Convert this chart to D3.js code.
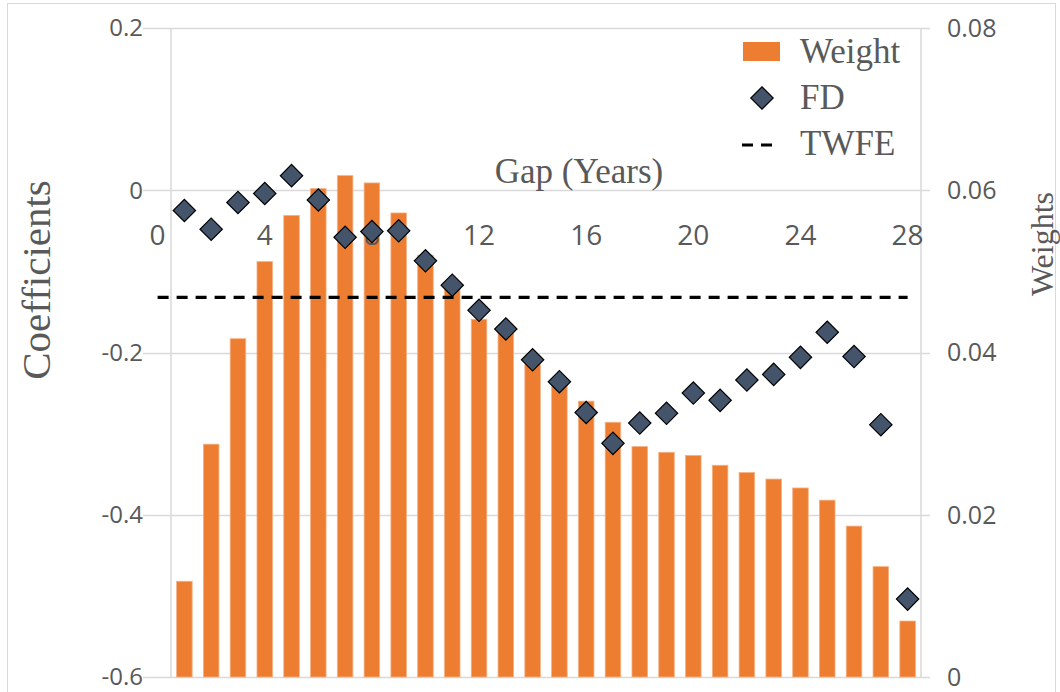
<!DOCTYPE html>
<html>
<head>
<meta charset="utf-8">
<script src="https://cdn.jsdelivr.net/npm/d3@7"></script>
<style>
  html, body { margin: 0; padding: 0; background: #fff; }
  svg { display: block; }
</style>
</head>
<body>
<svg id="chart" width="1060" height="692"></svg>
<script>
// ---- Data ----
const gaps = [1,2,3,4,5,6,7,8,9,10,11,12,13,14,15,16,17,18,19,20,21,22,23,24,25,26,27,28];
const weights = [0.0118,0.0287,0.0417,0.0512,0.0569,0.0602,0.0618,0.0609,0.0572,0.0520,0.0481,0.0441,0.0424,0.0385,0.0361,0.0340,0.0314,0.0284,0.0277,0.0273,0.0261,0.0252,0.0244,0.0233,0.0218,0.0186,0.0136,0.0069];
const fdCoefs = [-0.025,-0.048,-0.015,-0.004,0.018,-0.012,-0.058,-0.051,-0.050,-0.087,-0.117,-0.148,-0.171,-0.209,-0.236,-0.274,-0.312,-0.287,-0.275,-0.250,-0.259,-0.234,-0.227,-0.206,-0.175,-0.205,-0.289,-0.504];
const twfe = -0.132;
const twfeRange = [0, 28];
const xTicks = [0,4,8,12,16,20,24,28];
const leftTicks = [0.2, 0, -0.2, -0.4, -0.6];
const leftTickLabels = ["0.2", "0", "-0.2", "-0.4", "-0.6"];
const rightTicks = [0.08, 0.06, 0.04, 0.02, 0];
const rightTickLabels = ["0.08", "0.06", "0.04", "0.02", "0"];
const legendItems = ["Weight", "FD", "TWFE"];

// ---- Layout ----
const L = 171, R = 921, T = 28, B = 677;
const svg = d3.select("#chart");
const textColor = "#595959";
const gridColor = "#d9d9d9";
const orange = "#ED7D31";
const diamondFill = "#44546A";
const tickFont = "'Open Sans', sans-serif";
const titleFont = "'Liberation Serif', serif";

const xBand = d3.scaleBand().domain(gaps).range([L, R]).paddingInner(0.42).paddingOuter(0.21);
const xLin = d3.scaleLinear().domain([0.5, 28.5]).range([L, R]);
const yL = d3.scaleLinear().domain([-0.6, 0.2]).range([B, T]);
const yR = d3.scaleLinear().domain([0, 0.08]).range([B, T]);

// chart border
svg.append("rect").attr("x", 7.5).attr("y", 3.5).attr("width", 1048).attr("height", 720)
  .attr("fill", "none").attr("stroke", "#d9d9d9").attr("stroke-width", 1);

// gridlines
svg.append("g").selectAll("line").data(leftTicks).join("line")
  .attr("x1", L - 28).attr("x2", R + 9)
  .attr("y1", d => Math.round(yL(d)) + 0.5).attr("y2", d => Math.round(yL(d)) + 0.5)
  .attr("stroke", gridColor).attr("stroke-width", 1.5);

// vertical axis lines
[L, R].forEach(x => {
  svg.append("line").attr("x1", x).attr("x2", x).attr("y1", T).attr("y2", B)
    .attr("stroke", gridColor).attr("stroke-width", 1.5);
});

// left axis labels
svg.append("g").selectAll("text").data(leftTicks).join("text")
  .attr("x", 143).attr("y", d => yL(d)).attr("dy", "0.35em")
  .attr("text-anchor", "end").attr("font-family", tickFont).attr("font-size", 24)
  .attr("fill", textColor).text((d, i) => leftTickLabels[i]);

// right axis labels
svg.append("g").selectAll("text").data(rightTicks).join("text")
  .attr("x", 947).attr("y", d => yR(d)).attr("dy", "0.35em")
  .attr("text-anchor", "start").attr("font-family", tickFont).attr("font-size", 25)
  .attr("fill", textColor).text((d, i) => rightTickLabels[i]);

// bars
svg.append("g").selectAll("rect").data(gaps).join("rect")
  .attr("x", d => xBand(d)).attr("width", xBand.bandwidth())
  .attr("y", (d, i) => yR(weights[i])).attr("height", (d, i) => yR(0) - yR(weights[i]))
  .attr("fill", orange).attr("stroke", "#f4b183").attr("stroke-width", 0.8);

// x axis labels
svg.append("g").selectAll("text").data(xTicks).join("text")
  .attr("x", d => xLin(d)).attr("y", yL(0) + 55)
  .attr("text-anchor", "middle").attr("font-family", tickFont).attr("font-size", 28)
  .attr("fill", textColor).text(d => d);

// x axis title
svg.append("text").attr("x", 579).attr("y", 183).attr("text-anchor", "middle")
  .attr("font-family", titleFont).attr("font-size", 35).attr("fill", textColor).text("Gap (Years)");

// TWFE line
svg.append("line").attr("x1", xLin(twfeRange[0])).attr("x2", xLin(twfeRange[1]))
  .attr("y1", yL(twfe)).attr("y2", yL(twfe))
  .attr("stroke", "#000").attr("stroke-width", 3.2).attr("stroke-dasharray", "11,8");

// FD diamonds
const diamond = d3.symbol().type(d3.symbolSquare).size(250);
svg.append("g").selectAll("path").data(gaps).join("path")
  .attr("d", diamond)
  .attr("transform", (d, i) => `translate(${xLin(d)},${yL(fdCoefs[i])}) rotate(45)`)
  .attr("fill", diamondFill).attr("stroke", "#000").attr("stroke-width", 1.2);

// axis titles
svg.append("text").attr("transform", `translate(50,280) rotate(-90)`).attr("text-anchor", "middle")
  .attr("font-family", titleFont).attr("font-size", 41).attr("fill", textColor).text("Coefficients");
svg.append("text").attr("transform", `translate(1053,244) rotate(-90)`).attr("text-anchor", "middle")
  .attr("font-family", titleFont).attr("font-size", 32).attr("fill", textColor).text("Weights");

// legend
const lg = svg.append("g");
lg.append("rect").attr("x", 743).attr("y", 42).attr("width", 37).attr("height", 19).attr("fill", orange);
lg.append("path").attr("d", diamond).attr("transform", "translate(762,98) rotate(45)")
  .attr("fill", diamondFill).attr("stroke", "#000").attr("stroke-width", 1.2);
lg.append("line").attr("x1", 742).attr("x2", 775).attr("y1", 145).attr("y2", 145)
  .attr("stroke", "#000").attr("stroke-width", 3.2).attr("stroke-dasharray", "11,8");
lg.selectAll("text").data(legendItems).join("text")
  .attr("x", 800).attr("y", (d, i) => 63 + i * 46)
  .attr("font-family", titleFont).attr("font-size", 35).attr("fill", textColor).text(d => d);
</script>
</body>
</html>
